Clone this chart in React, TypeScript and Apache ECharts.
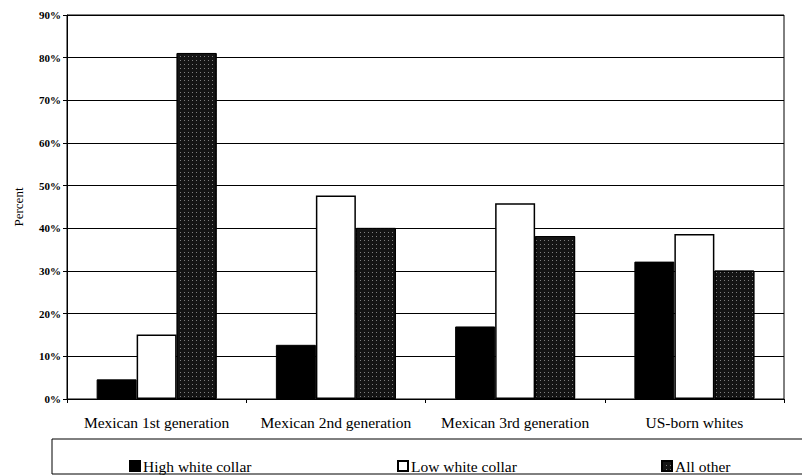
import React, { useEffect, useRef } from "react";
import * as echarts from "echarts";

const categories = [
  "Mexican 1st generation",
  "Mexican 2nd generation",
  "Mexican 3rd generation",
  "US-born whites",
];
const highWhiteCollar = [4.6, 12.7, 17.0, 32.2];
const lowWhiteCollar = [15.1, 47.7, 45.9, 38.7];
const allOther = [81.1, 40.1, 38.2, 30.1];
const seriesNames = ["High white collar", "Low white collar", "All other"];

const FONT = "Liberation Serif";

export default function App() {
  const ref = useRef<HTMLDivElement>(null);

  useEffect(() => {
    if (!ref.current) return;
    const chart = echarts.init(ref.current, null, { renderer: "svg" });
    const otherDecal = {
      symbol: "rect",
      symbolSize: 1,
      color: "rgba(255,255,255,0.45)",
      dashArrayX: [1, 3],
      dashArrayY: [1, 3],
      rotation: 0,
    };
    const legendCommon = {
      orient: "horizontal",
      top: 458,
      padding: 0,
      itemWidth: 10,
      itemHeight: 10,
      itemGap: 4,
      icon: "rect",
      selectedMode: false,
      textStyle: { fontFamily: FONT, fontSize: 15.5, color: "#000", padding: [0, 0, 0, -2] },
    };
    chart.setOption({
      animation: false,
      backgroundColor: "#fff",
      grid: {
        left: 67,
        right: 18,
        top: 15,
        bottom: 77,
        show: true,
        borderColor: "#000",
        borderWidth: 1,
      },
      legend: [
        { ...legendCommon, left: 129, data: [seriesNames[0]] },
        { ...legendCommon, left: 397, data: [seriesNames[1]] },
        { ...legendCommon, left: 661, data: [seriesNames[2]] },
      ],
      xAxis: {
        type: "category",
        data: categories,
        axisLine: { lineStyle: { color: "#000", width: 1 } },
        axisTick: { show: true, length: 4, lineStyle: { color: "#000" } },
        axisLabel: {
          fontFamily: FONT,
          fontSize: 15.5,
          color: "#000",
          margin: 15,
          interval: 0,
        },
      },
      yAxis: {
        type: "value",
        min: 0,
        max: 90,
        interval: 10,
        name: "Percent",
        nameLocation: "middle",
        nameGap: 42,
        nameRotate: 90,
        nameTextStyle: { fontFamily: FONT, fontSize: 13, color: "#000" },
        axisLine: { show: true, lineStyle: { color: "#000", width: 1 } },
        axisTick: { show: true, length: 4, lineStyle: { color: "#000" } },
        axisLabel: {
          formatter: "{value}%",
          fontFamily: FONT,
          fontSize: 11,
          fontWeight: "bold",
          color: "#000",
          margin: 6,
        },
        splitLine: { show: true, lineStyle: { color: "#000", width: 1 } },
      },
      series: [
        {
          name: seriesNames[0],
          type: "bar",
          data: highWhiteCollar,
          barWidth: 40,
          barGap: "0%",
          itemStyle: { color: "#000", borderColor: "#000", borderWidth: 1 },
        },
        {
          name: seriesNames[1],
          type: "bar",
          data: lowWhiteCollar,
          barWidth: 40,
          barGap: "0%",
          itemStyle: { color: "#fff", borderColor: "#000", borderWidth: 1.5 },
        },
        {
          name: seriesNames[2],
          type: "bar",
          data: allOther,
          barWidth: 40,
          barGap: "0%",
          itemStyle: {
            color: "#141414",
            borderColor: "#000",
            borderWidth: 1,
            decal: otherDecal,
          },
        },
      ],
      graphic: [
        {
          type: "rect",
          shape: { x: 52, y: 439, width: 770, height: 35 },
          style: { fill: "none", stroke: "#000", lineWidth: 1 },
          silent: true,
        },
      ],
    });
    return () => chart.dispose();
  }, []);

  return (
    <div
      ref={ref}
      style={{ position: "fixed", left: 0, top: 0, width: 802, height: 476, background: "#fff" }}
    />
  );
}
